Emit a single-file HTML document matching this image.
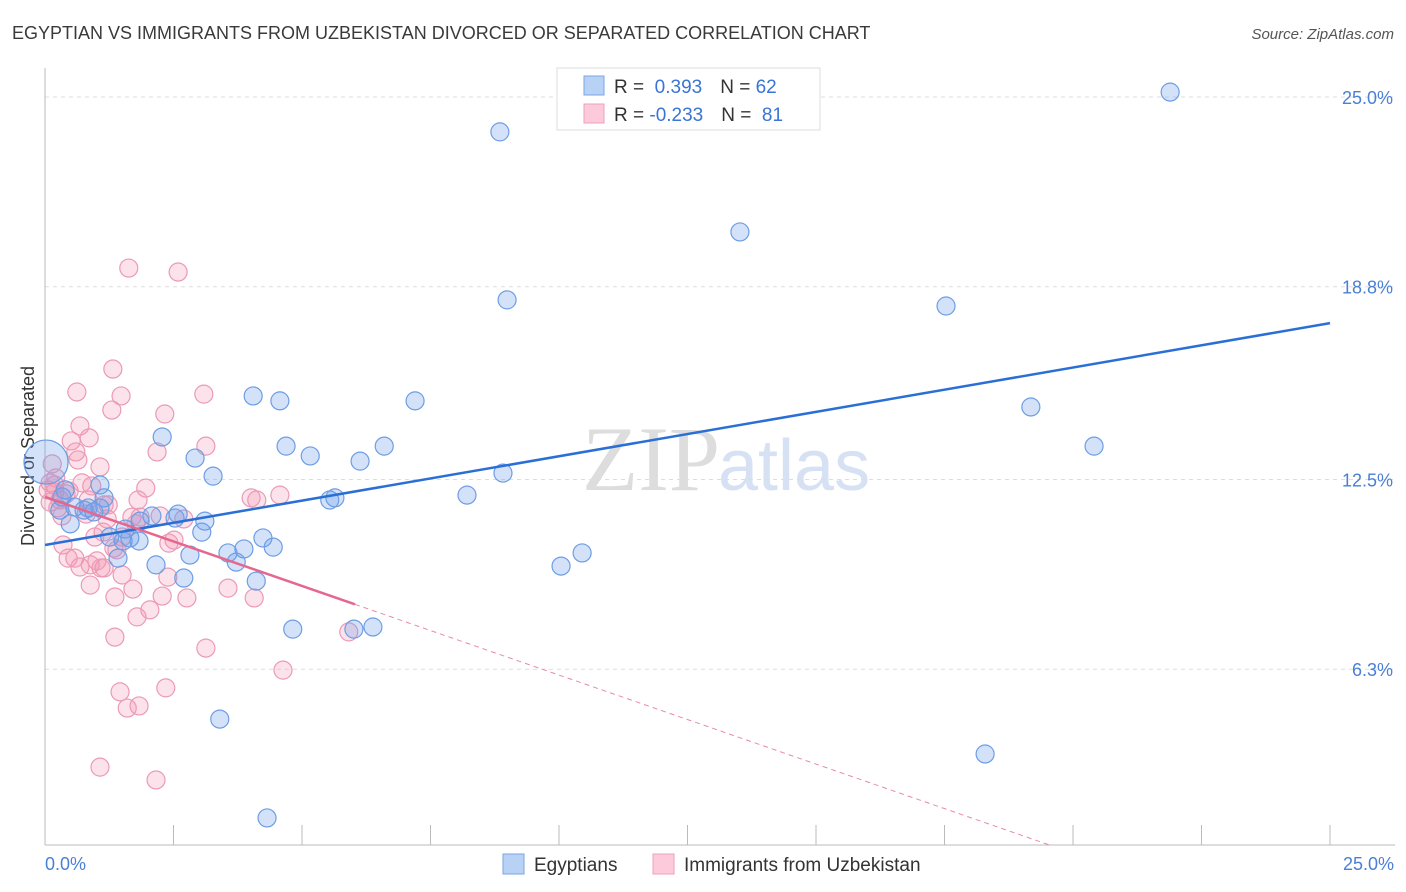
<!DOCTYPE html>
<html><head><meta charset="utf-8"><style>
body{margin:0;background:#fff;font-family:"Liberation Sans",sans-serif}
svg{display:block}
</style></head><body>
<svg id="c" width="1406" height="892">
<text x="12" y="39" font-size="18" fill="#3a3a3a">EGYPTIAN VS IMMIGRANTS FROM UZBEKISTAN DIVORCED OR SEPARATED CORRELATION CHART</text>
<text x="1394" y="39" font-size="15" fill="#555" font-style="italic" text-anchor="end">Source: ZipAtlas.com</text>
<text x="720" y="490" font-size="92" font-family="Liberation Serif" fill="#ddd" text-anchor="end">ZIP</text>
<text x="718" y="490" font-size="72" fill="#d6e2f3">atlas</text>
<g id="grid"></g>
<line x1="45" y1="68" x2="45" y2="845" stroke="#bbb"/>
<line x1="45" y1="845" x2="1395" y2="845" stroke="#bbb"/>
<text x="34" y="456" font-size="18" fill="#333" text-anchor="middle" transform="rotate(-90 34 456)">Divorced or Separated</text>
<text x="45" y="870" font-size="18" fill="#4a7fd6">0.0%</text>
<text x="1394" y="870" font-size="18" fill="#4a7fd6" text-anchor="end">25.0%</text>
<g id="pts"></g>
<g id="lines"></g>
<g>
<rect x="557" y="68" width="263" height="62" fill="#fff" stroke="#ddd"/>
<rect x="584" y="76" width="20" height="19" fill="#b8d2f5" stroke="#7aa5e5"/>
<rect x="584" y="104" width="20" height="19" fill="#fccadb" stroke="#eea0bb"/>
<text x="614" y="93" font-size="19" fill="#333">R = <tspan fill="#3a74d4">&#160;0.393</tspan><tspan dx="18">N = </tspan><tspan fill="#3a74d4">62</tspan></text>
<text x="614" y="121" font-size="19" fill="#333">R = <tspan fill="#3a74d4">-0.233</tspan><tspan dx="18">N = </tspan><tspan fill="#3a74d4">&#160;81</tspan></text>
</g>
<g>
<rect x="503" y="854" width="21" height="20" fill="#b8d2f5" stroke="#7aa5e5"/>
<text x="534" y="871" font-size="19" fill="#333">Egyptians</text>
<rect x="653" y="854" width="21" height="20" fill="#fccadb" stroke="#eea0bb"/>
<text x="684" y="871" font-size="19" fill="#333">Immigrants from Uzbekistan</text>
</g>
</svg>
<script>
const yTicks=[25.0,18.8,12.5,6.3];
const yTickLabels=["25.0%","18.8%","12.5%","6.3%"];
const xTicks=[0,2.5,5,7.5,10,12.5,15,17.5,20,22.5,25];
const egyX=[21.89,8.85,13.52,8.99,17.53,19.18,20.41,7.20,4.57,4.05,2.28,2.92,3.27,4.69,5.16,6.13,6.60,8.91,8.21,5.54,5.64,1.07,1.15,0.33,0.58,0.76,0.49,2.08,2.59,2.53,3.11,3.05,1.85,1.26,1.52,1.65,1.83,2.16,2.82,3.56,3.72,3.87,4.24,4.44,4.11,2.70,1.42,4.82,6.01,6.38,3.40,4.32,10.04,10.45,18.29,0.02,1.07,0.84,0.29,0.95,1.56,0.39];
const egyY=[25.16,23.86,20.59,18.37,18.17,14.87,13.59,15.07,15.07,15.23,13.89,13.20,12.61,13.59,13.27,13.10,13.59,12.71,11.99,11.83,11.90,12.32,11.90,11.93,11.60,11.50,11.05,11.31,11.37,11.24,11.14,10.78,11.14,10.62,10.49,10.59,10.49,9.71,10.03,10.10,9.80,10.23,10.59,10.29,9.18,9.28,9.93,7.61,7.61,7.68,4.67,1.44,9.67,10.10,3.53,13.07,11.57,11.57,11.50,11.44,10.88,12.16];
const uzbX=[1.63,2.59,1.32,0.62,1.48,1.30,3.09,2.33,0.68,0.86,0.51,0.60,3.13,2.18,0.64,1.07,1.96,4.01,4.12,4.57,0.21,0.10,0.19,0.29,0.41,0.47,0.84,0.91,1.23,1.15,0.80,1.21,1.69,2.24,1.85,2.70,2.51,2.41,1.77,1.50,0.97,1.34,0.35,0.45,0.58,1.01,0.68,1.15,1.09,1.50,2.39,1.71,0.88,2.28,2.76,4.07,3.56,2.04,1.79,1.36,3.13,5.91,4.63,1.46,2.35,1.60,1.83,1.07,2.16,0.14,0.19,0.06,0.10,0.25,0.33,0.72,1.13,1.40,0.88,1.36,1.81];
const uzbY=[19.41,19.28,16.11,15.36,15.23,14.77,15.29,14.64,14.25,13.86,13.76,13.40,13.59,13.40,13.14,12.91,12.22,11.90,11.83,11.99,12.55,12.39,12.09,11.83,12.03,12.12,11.83,12.29,11.67,11.67,11.37,11.21,11.27,11.31,11.27,11.21,10.52,10.42,11.05,10.62,10.62,10.26,10.36,9.93,9.93,9.84,9.64,9.61,9.61,9.38,9.31,8.92,9.05,8.69,8.63,8.63,8.95,8.24,8.01,7.35,6.99,7.52,6.27,5.56,5.69,5.03,5.10,3.10,2.68,13.01,12.32,12.16,11.76,11.57,11.31,12.39,10.78,10.20,9.71,8.66,11.83];
const egyTrend=[10.36,17.61];
const uzbTrend=[11.93,-0.582];
const uzbSolidEnd=6.03;
const NS="http://www.w3.org/2000/svg";
const sx=v=>45+v*51.4;
const sy=v=>862-v*30.6;
function mk(tag,attrs,parent){const e=document.createElementNS(NS,tag);for(const k in attrs)e.setAttribute(k,attrs[k]);parent.appendChild(e);return e;}
const grid=document.getElementById('grid');
yTicks.forEach((t,i)=>{
 const l=mk('line',{x1:45,x2:1395,y1:sy(t),y2:sy(t),stroke:'#ddd','stroke-dasharray':'4,4'},grid);
 
 
 const tx=mk('text',{x:1393,y:sy(t)+7,'font-size':18,fill:'#4a7fd6','text-anchor':'end'},grid);
 tx.textContent=yTickLabels[i];
 
 
});
xTicks.forEach(t=>{
 const l=mk('line',{x1:sx(t),x2:sx(t),y1:825,y2:845,stroke:'#bbb'},grid);
 
 
});
const pts=document.getElementById('pts');
uzbX.forEach((x,i)=>{
 const c=mk('circle',{cx:sx(x),cy:sy(uzbY[i]),r:9,fill:'rgba(245,150,180,0.28)',stroke:'#eb9ab5','stroke-width':1.2},pts);
 
 
});
egyX.forEach((x,i)=>{
 const c=mk('circle',{cx:sx(x),cy:sy(egyY[i]),r:i===55?22:9,fill:'rgba(110,160,235,0.3)',stroke:'#6d9de3','stroke-width':1.2},pts);
 
 
});
const lines=document.getElementById('lines');
const b=mk('line',{x1:sx(0),y1:sy(egyTrend[0]),x2:sx(25),y2:sy(egyTrend[1]),stroke:'#2a6fd6','stroke-width':2.5},lines);


const pe=uzbTrend[0]+uzbTrend[1]*uzbSolidEnd;
const p=mk('line',{x1:sx(0),y1:sy(uzbTrend[0]),x2:sx(uzbSolidEnd),y2:sy(pe),stroke:'#e5678f','stroke-width':2.5},lines);


const yBottom=(862-845)/30.6;
const xEnd=Math.min(25,(yBottom-uzbTrend[0])/uzbTrend[1]);
const d=mk('line',{x1:sx(uzbSolidEnd),y1:sy(pe),x2:sx(xEnd),y2:sy(uzbTrend[0]+uzbTrend[1]*xEnd),stroke:'#e88aa8','stroke-width':1,'stroke-dasharray':'5,4'},lines);


</script>
</body></html>
